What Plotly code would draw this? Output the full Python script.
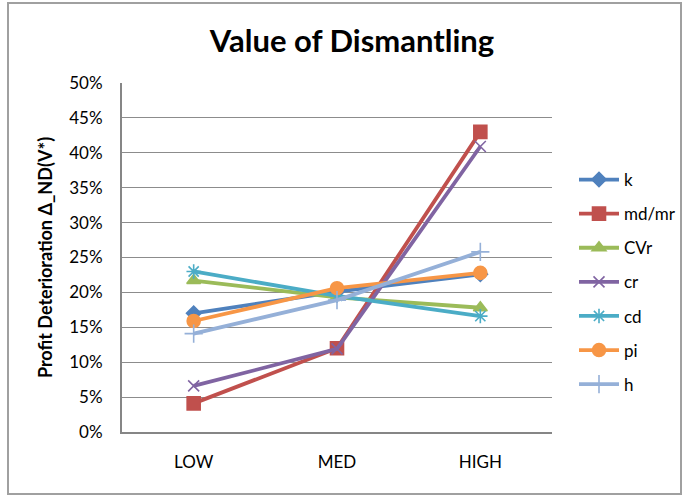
import plotly.graph_objects as go

categories = ["LOW", "MED", "HIGH"]
series_names = ["k", "md/mr", "CVr", "cr", "cd", "pi", "h"]
k_vals = [0.170, 0.201, 0.226]
mdmr_vals = [0.041, 0.120, 0.430]
cvr_vals = [0.217, 0.193, 0.178]
cr_vals = [0.066, 0.119, 0.409]
cd_vals = [0.230, 0.195, 0.166]
pi_vals = [0.159, 0.206, 0.228]
h_vals = [0.141, 0.189, 0.258]
y_tick_vals = [0, 0.05, 0.10, 0.15, 0.20, 0.25, 0.30, 0.35, 0.40, 0.45, 0.50]

values = [k_vals, mdmr_vals, cvr_vals, cr_vals, cd_vals, pi_vals, h_vals]
colors = ["#4F81BD", "#C0504D", "#9BBB59", "#8064A2", "#4BACC6", "#F79646", "#95B0D8"]
symbols = ["diamond", "square", "triangle-up", "x-thin", "asterisk", "circle", "cross-thin"]
sizes = [11, 13, 12, 11, 12, 13, 13]

FONT = "Lato"

fig = go.Figure()
for name, vals, c, s, sz in zip(series_names, values, colors, symbols, sizes):
    fig.add_trace(go.Scatter(
        x=categories, y=vals, name=name, mode="lines+markers",
        legendgroup=name,
        line=dict(color=c, width=3.8),
        marker=dict(symbol=s, size=sz, color=c, line=dict(color=c, width=1.6)),
    ))

W, H = 686, 496
L, R, T, B = 122, 134, 83, 64
pw, ph = W - L - R, H - T - B

def px_to_paper_x(px):
    return (px - L) / pw

def px_to_paper_y(py):
    return (H - B - py) / ph

fig.update_layout(
    width=W, height=H,
    margin=dict(l=L, r=R, t=T, b=B, autoexpand=False),
    paper_bgcolor="white", plot_bgcolor="white",
    font=dict(family=FONT, size=17, color="#000000"),
    title=dict(text="<b>Value of Dismantling</b>", x=352 / W, xref="container",
               xanchor="center", y=1 - 41 / H, yref="container", yanchor="middle",
               font=dict(family=FONT, size=31, color="#000000")),
    showlegend=True,
    legend=dict(x=px_to_paper_x(574), y=px_to_paper_y(162), xanchor="left", yanchor="top",
                tracegroupgap=9, itemwidth=40, font=dict(family=FONT, size=17),
                bgcolor="rgba(0,0,0,0)"),
    xaxis=dict(type="category", range=[-0.5, 2.5], showgrid=False, showline=True,
               linecolor="#868686", linewidth=2, ticks="outside", ticklen=14,
               tickcolor="rgba(0,0,0,0)", tickfont=dict(family=FONT, size=17),
               fixedrange=True),
    yaxis=dict(range=[0, 0.5], tickvals=y_tick_vals, tickformat=".0%",
               showgrid=True, gridcolor="#8C8C8C", gridwidth=1.2,
               showline=True, linecolor="#868686", linewidth=2, zeroline=False,
               ticks="outside", ticklen=14, tickcolor="rgba(0,0,0,0)",
               tickfont=dict(family=FONT, size=17),
               title=dict(text="<b>Profit Deterioration Δ_ND(V*)</b>", standoff=12,
                          font=dict(family=FONT, size=18)),
               fixedrange=True),
    shapes=[dict(type="rect", xref="paper", yref="paper",
                 x0=px_to_paper_x(8), x1=px_to_paper_x(681),
                 y0=px_to_paper_y(494), y1=px_to_paper_y(3),
                 line=dict(color="#A0A0A0", width=2), layer="below")],
)

fig.write_html("out.html", config={"displayModeBar": False},
               post_script="document.body.style.margin='0';")
